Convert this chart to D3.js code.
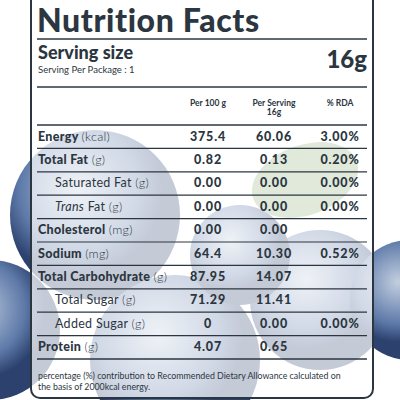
<!DOCTYPE html>
<html><head><meta charset="utf-8">
<script src="https://cdn.jsdelivr.net/npm/d3@7"></script>
<style>body{margin:0;background:#fff}svg{display:block;font-family:Lato,"Open Sans",sans-serif}</style>
</head><body><div id="output"></div>
<script>
var nutrients = ['Energy', 'Total Fat', 'Saturated Fat', 'Trans Fat', 'Cholesterol', 'Sodium', 'Total Carbohydrate', 'Total Sugar', 'Added Sugar', 'Protein'];
var units = ['(kcal)', '(g)', '(g)', '(g)', '(mg)', '(mg)', '(g)', '(g)', '(g)', '(g)'];
var subRows = ['Saturated Fat', 'Trans Fat', 'Total Sugar', 'Added Sugar'];
var per100 = ['375.4', '0.82', '0.00', '0.00', '0.00', '64.4', '87.95', '71.29', '0', '4.07'];
var perServing = ['60.06', '0.13', '0.00', '0.00', '0.00', '10.30', '14.07', '11.41', '0.00', '0.65'];
var rda = ['3.00%', '0.20%', '0.00%', '0.00%', '', '0.52%', '', '', '0.00%', ''];
var columns = ['Per 100 g', 'Per Serving|16g', '% RDA'];

var ink = '#2b3640';
var svg = d3.select('#output').append('svg').attr('width', 400).attr('height', 400);

// background berries
var defs = svg.append('defs');
var g = defs.append('radialGradient').attr('id', 'berry').attr('cx', '40%').attr('cy', '35%');
g.append('stop').attr('offset', '0%').attr('stop-color', '#c3cfe0');
g.append('stop').attr('offset', '70%').attr('stop-color', '#5d79a8');
g.append('stop').attr('offset', '100%').attr('stop-color', '#2c416e');
var berries = [[95, 215, 85], [-10, 330, 70], [175, 360, 85], [320, 300, 70], [410, 300, 60], [240, 255, 50]];
svg.selectAll('circle.berry').data(berries).join('circle').attr('class', 'berry')
  .attr('cx', d => d[0]).attr('cy', d => d[1]).attr('r', d => d[2]).attr('fill', 'url(#berry)');
svg.append('ellipse').attr('cx', 305).attr('cy', 180).attr('rx', 55).attr('ry', 35)
  .attr('fill', '#8fb07a').attr('transform', 'rotate(-20 305 180)');

// panel
svg.append('rect').attr('x', 31).attr('y', -12).attr('width', 342).attr('height', 410).attr('rx', 9)
  .attr('fill', '#fff').attr('fill-opacity', 0.72).attr('stroke', ink).attr('stroke-width', 2);

svg.append('text').attr('x', 37).attr('y', 32).attr('font-size', 32).attr('font-weight', 900)
  .attr('letter-spacing', 0.6).attr('fill', ink).text('Nutrition Facts');
svg.append('line').attr('x1', 37).attr('x2', 367).attr('y1', 39).attr('y2', 39).attr('stroke', ink).attr('stroke-width', 1.5);
svg.append('text').attr('x', 38).attr('y', 59).attr('font-size', 18).attr('font-weight', 900).attr('fill', ink).text('Serving size');
svg.append('text').attr('x', 38).attr('y', 73).attr('font-size', 9.5).attr('fill', ink).text('Serving Per Package : 1');
svg.append('text').attr('x', 367).attr('y', 68).attr('text-anchor', 'end').attr('font-size', 24).attr('font-weight', 900).attr('fill', ink).text('16g');
svg.append('line').attr('x1', 37).attr('x2', 367).attr('y1', 87).attr('y2', 87).attr('stroke', ink).attr('stroke-width', 1.5);

var x = d3.scalePoint().domain(columns).range([208, 340]);
var y = d3.scaleBand().domain(nutrients).range([125, 359]);

columns.forEach(function (c) {
  var parts = c.split('|');
  var t = svg.append('text').attr('text-anchor', 'middle').attr('font-size', 8.5).attr('font-weight', 700).attr('fill', ink);
  parts.forEach((p, i) => t.append('tspan').attr('x', x(c)).attr('y', 106 + i * 9).text(p));
});

var rows = svg.selectAll('g.row').data(nutrients).join('g').attr('class', 'row')
  .attr('transform', d => `translate(0,${y(d)})`);
rows.append('line').attr('x1', 37).attr('x2', 367).attr('y1', 0).attr('y2', 0)
  .attr('stroke', ink).attr('stroke-width', (d, i) => i == 0 ? 1.5 : 1.2);
var lab = rows.append('text').attr('x', d => subRows.includes(d) ? 55 : 38)
  .attr('y', y.bandwidth() / 2 + 4).attr('font-size', 12.5).attr('letter-spacing', 0.3).attr('fill', ink);
lab.filter(d => d != 'Trans Fat').append('tspan').attr('font-weight', d => subRows.includes(d) ? 400 : 900)
  .text(d => d + ' ');
lab.filter(d => d == 'Trans Fat').each(function () {
  d3.select(this).append('tspan').attr('font-style', 'italic').text('Trans');
  d3.select(this).append('tspan').text(' Fat ');
});
lab.append('tspan').attr('font-weight', 300).text((d, i) => units[i]);

[per100, perServing, rda].forEach(function (vals, k) {
  rows.append('text').attr('x', x(columns[k])).attr('y', y.bandwidth() / 2 + 4)
    .attr('text-anchor', 'middle').attr('font-size', 12.5).attr('font-weight', 900)
    .attr('letter-spacing', 0.8).attr('fill', ink).text((d, i) => vals[i]);
});
svg.append('line').attr('x1', 37).attr('x2', 367).attr('y1', y.range()[1]).attr('y2', y.range()[1]).attr('stroke', ink).attr('stroke-width', 1.5);

svg.append('text').attr('x', 38).attr('y', 379).attr('font-size', 8.8).attr('fill', ink)
  .text('percentage (%) contribution to Recommended Dietary Allowance calculated on');
svg.append('text').attr('x', 38).attr('y', 390).attr('font-size', 8.8).attr('fill', ink)
  .text('the basis of 2000kcal energy.');
</script></body></html>
